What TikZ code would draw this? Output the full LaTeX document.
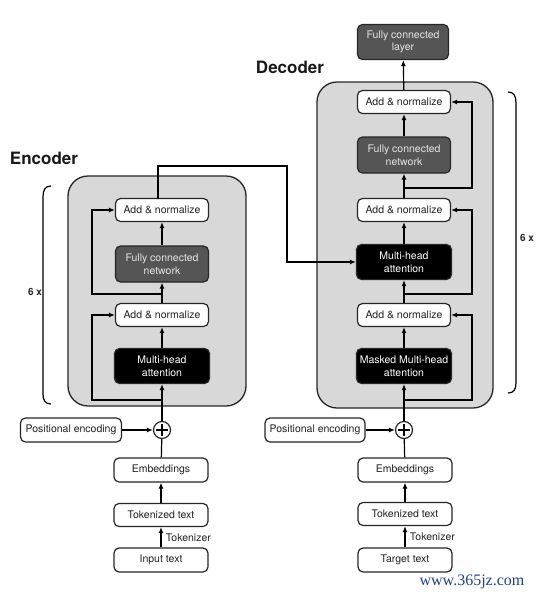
\documentclass[tikz,border=0pt]{standalone}
\usepackage{fontspec}
\setmainfont{TeX Gyre Heros}
\newfontfamily\wmfont{Liberation Serif}
\usetikzlibrary{arrows.meta,calc}
\definecolor{txt}{HTML}{222222}
\definecolor{cont}{HTML}{D8D8D8}
\definecolor{fcn}{HTML}{555555}
\definecolor{wm}{HTML}{1F3F8F}
\tikzset{
  base/.style={draw=black!85, line width=1.2pt, rounded corners=5pt, inner sep=0pt, align=center,
    font=\fontsize{10.5}{12.5}\selectfont},
  wbox/.style={base, fill=white, text=txt, minimum width=93pt, minimum height=23pt},
  dbox/.style={base, fill=fcn, text=white!90!black, minimum width=93pt, minimum height=36pt},
  bbox/.style={base, fill=black, text=white, minimum width=95pt, minimum height=35pt},
  container/.style={draw=black!85, line width=1.3pt, fill=cont, rounded corners=20pt},
  arr/.style={line width=1.2pt, -{Latex[length=6pt,width=5pt]}},
  ln/.style={line width=1.2pt},
  plus/.style={circle, draw=black!85, line width=1.2pt, fill=white, minimum size=17pt, inner sep=0pt},
  title/.style={font=\bfseries\fontsize{17}{20}\selectfont, text=black!90},
  six/.style={font=\bfseries\fontsize{10}{11}\selectfont, text=black!85}
}
\begin{document}
\begin{tikzpicture}[x=1pt,y=-1pt]
\useasboundingbox (0,0) rectangle (538,598);
% containers
\draw[container] (68,176) rectangle (246,406);
\draw[container] (317,82) rectangle (493,408);
% titles
\node[title] (enct) at (44,158) {Encoder};
\node[title] (dect) at (290,67) {Decoder};
% braces
\draw[ln] (51,186) .. controls (45,186) and (43,190) .. (43,197) -- (43,394) .. controls (43,400) and (45,404) .. (51,404);
\draw[ln] (508,92) .. controls (514,92) and (516,96) .. (516,103) -- (516,383) .. controls (516,389) and (514,393) .. (508,393);
\node[six] (e6) at (35,292) {6 x};
\node[six] (d6) at (527,238) {6 x};
% encoder nodes
\node[wbox] (ean2) at (162,210) {Add \& normalize};
\node[dbox] (efcn) at (162,264) {Fully connected\\network};
\node[wbox] (ean1) at (162,315) {Add \& normalize};
\node[bbox] (emha) at (162,366) {Multi-head\\attention};
\node[plus] (eplus) at (162,430) {};
\draw[ln] ([yshift=-6pt]eplus.center) -- ([yshift=6pt]eplus.center) ([xshift=-6pt]eplus.center) -- ([xshift=6pt]eplus.center);
\node[wbox, minimum width=101pt, minimum height=24pt] (epe) at (71,430) {Positional encoding};
\node[wbox, minimum width=94pt, minimum height=24pt] (eemb) at (161,470) {Embeddings};
\node[wbox, minimum width=94pt] (etok) at (161,515) {Tokenized text};
\node[wbox, minimum width=94pt, minimum height=24pt] (ein) at (161,560) {Input text};
% decoder nodes
\node[dbox, minimum width=91pt, minimum height=35pt] (dfcl) at (403,42) {Fully connected\\layer};
\node[wbox] (dan3) at (404,102) {Add \& normalize};
\node[dbox] (dfcn) at (404,155) {Fully connected\\network};
\node[wbox] (dan2) at (404,210) {Add \& normalize};
\node[bbox] (dmha) at (404,262) {Multi-head\\attention};
\node[wbox] (dan1) at (404,315) {Add \& normalize};
\node[bbox] (dmmha) at (404,366) {Masked Multi-head\\attention};
\node[plus] (dplus) at (404,430) {};
\draw[ln] ([yshift=-6pt]dplus.center) -- ([yshift=6pt]dplus.center) ([xshift=-6pt]dplus.center) -- ([xshift=6pt]dplus.center);
\node[wbox, minimum width=100pt, minimum height=24pt] (dpe) at (315,430) {Positional encoding};
\node[wbox, minimum width=94pt, minimum height=24pt] (demb) at (405,470) {Embeddings};
\node[wbox, minimum width=94pt] (dtok) at (405,514) {Tokenized text};
\node[wbox, minimum width=94pt, minimum height=24pt] (dtgt) at (405,560) {Target text};
% encoder connectors
\draw[arr] (ein) -- node[right, font=\fontsize{10.5}{12}\selectfont, text=txt, xshift=1pt] {Tokenizer} (etok);
\draw[arr] (etok) -- (eemb);
\draw[ln] (eemb) -- (eplus);
\draw[arr] (epe) -- (eplus);
\draw[arr] (eplus) -- (emha);
\coordinate (es1) at (162,400);
\coordinate (es2) at (162,294);
\draw[arr] (es1) -- (92,400) |- (ean1.west);
\draw[arr] (emha) -- (ean1);
\draw[arr] (ean1) -- (efcn);
\draw[arr] (es2) -- (92,294) |- (ean2.west);
\draw[arr] (efcn) -- (ean2);
\coordinate (eout) at (158,199);
\draw[arr] (eout) |- (287,166) |- (dmha.west);
% decoder connectors
\draw[arr] (dtgt) -- node[right, font=\fontsize{10.5}{12}\selectfont, text=txt, xshift=1pt] {Tokenizer} (dtok);
\draw[arr] (dtok) -- (demb);
\draw[ln] (demb) -- (dplus);
\draw[arr] (dpe) -- (dplus);
\draw[arr] (dplus) -- (dmmha);
\coordinate (ds1) at (404,400);
\coordinate (ds2) at (404,294);
\coordinate (ds3) at (404,188);
\draw[arr] (ds1) -- (472,400) |- (dan1.east);
\draw[arr] (dmmha) -- (dan1);
\draw[arr] (dan1) -- (dmha);
\draw[arr] (ds2) -- (472,294) |- (dan2.east);
\draw[arr] (dmha) -- (dan2);
\draw[arr] (dan2) -- (dfcn);
\draw[arr] (ds3) -- (472,188) |- (dan3.east);
\draw[arr] (dfcn) -- (dan3);
\draw[arr] (dan3) -- (dfcl);
% watermark
\node[font=\wmfont\fontsize{16}{18}\selectfont, text=wm] (wmk) at (472,582) {www.365jz.com};
\end{tikzpicture}
\end{document}
